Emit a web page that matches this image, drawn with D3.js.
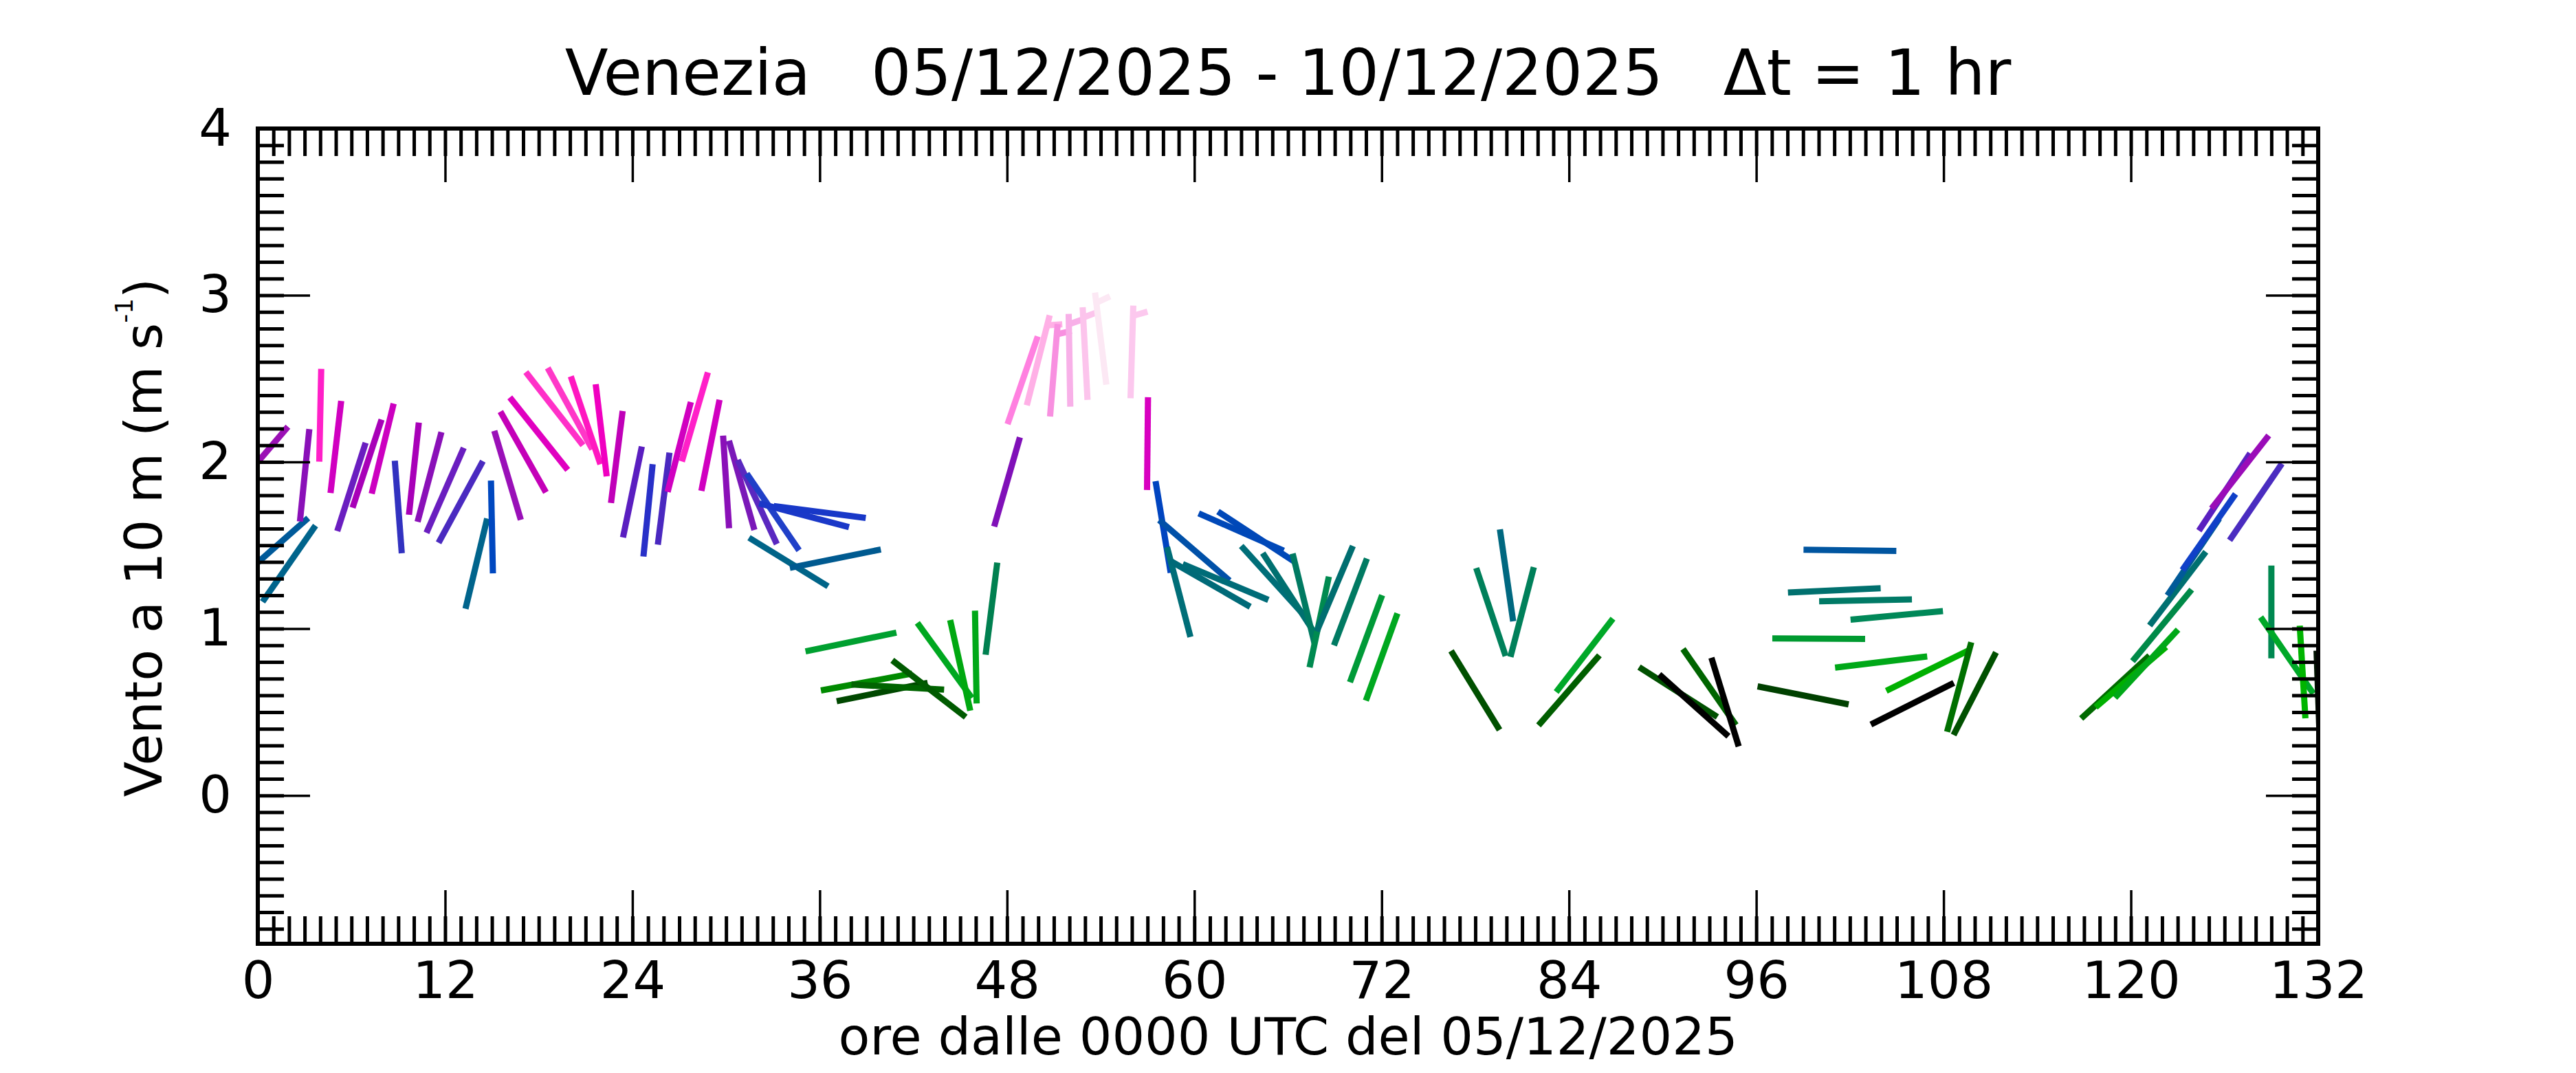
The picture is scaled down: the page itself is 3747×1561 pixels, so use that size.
<!DOCTYPE html>
<html>
<head>
<meta charset="utf-8">
<script src="https://cdn.jsdelivr.net/npm/d3@7"></script>
<style>
  body { margin: 0; background: #fff; }
  text { font-family: "DejaVu Sans", sans-serif; fill: #000; }
</style>
</head>
<body>
<svg id="chart" width="3747" height="1561"></svg>
<script>
// hours since 0000 UTC 05/12/2025
const hours = [0, 1, 2, 3, 4, 5, 6, 7, 8, 9, 10, 11, 12, 13, 14, 15, 16, 17, 18, 19,
  20, 21, 22, 23, 24, 25, 26, 27, 28, 29, 30, 31, 32, 33, 34, 35, 36, 37, 38, 39,
  40, 41, 43, 44, 45, 46, 47, 48, 49, 50, 51, 52, 53, 54, 56, 57, 58, 59, 60, 61,
  62, 63, 64, 65, 66, 67, 68, 69, 70, 71, 72, 78, 79, 80, 81, 84, 85, 91, 92, 93,
  94, 99, 100, 101, 102, 103, 104, 105, 106, 107, 109, 110, 119, 120, 121, 122, 123, 124, 125, 126,
  127, 128, 129, 130, 131, 132];

// wind speed (m/s)
const speeds = [2.00, 1.48, 1.39, 1.92, 2.28, 2.09, 1.85, 1.99, 2.08, 1.73, 1.96, 1.91, 1.83, 1.76, 1.39, 1.61, 1.92, 2.06, 2.17, 2.32,
  2.32, 2.25, 2.19, 2.03, 1.82, 1.71, 1.78, 2.09, 2.27, 2.10, 1.88, 1.86, 1.76, 1.70, 1.40, 1.68, 1.70, 1.42, 0.92, 0.68,
  0.62, 0.65, 0.64, 0.81, 0.78, 0.83, 1.12, 1.88, 2.49, 2.61, 2.55, 2.61, 2.65, 2.74, 2.66, 2.11, 1.61, 1.22, 1.47, 1.27,
  1.28, 1.58, 1.55, 1.29, 1.22, 1.18, 1.04, 1.24, 1.16, 0.94, 0.83, 0.63, 1.10, 1.32, 1.10, 0.63, 0.84, 0.62, 0.54, 0.65,
  0.56, 0.60, 0.94, 1.23, 1.47, 1.17, 0.80, 1.08, 0.55, 0.75, 0.65, 0.61, 0.65, 0.71, 0.79, 1.02, 1.24, 1.43, 1.58, 1.82,
  1.94, 1.76, 1.10, 0.84, 0.74, 0.59];

// stick direction (degrees clockwise from north)
const directions = [40.5, 48.6, 34.8, 5.8, 1.2, 6.6, 17.8, 18.2, 13.7, 175.7, 6.1, 14.9, 23.7, 28.5, 13.5, 178.8, 163.4, 150.6, 141.4, 142,
  151.3, 161.4, 173.2, 7.2, 11.7, 5.7, 7.2, 14.5, 16.3, 11.3, 176.3, 164.1, 155.1, 145.7, 121.6, 104.8, 97.4, 78.6, 78.3, 79.5,
  78.6, 93.1, 127.7, 144, 167.5, 179, 7.2, 16.1, 19, 14.3, 4.7, 359, 357, 353, 1.7, 0.6, 170.6, 165.4, 130.7, 119.9,
  112.7, 113.7, 123.2, 137.8, 147, 166.3, 12, 22.9, 20.8, 20.3, 19.9, 148.5, 161.5, 171.8, 14.6, 41, 37.7, 122.5, 131.8, 145.2,
  162.9, 101.2, 90.3, 87.3, 90.8, 88.9, 83.1, 84.7, 63.3, 63.9, 15.1, 27.2, 47.3, 49.4, 42.8, 39.6, 37.3, 34, 35, 33.5,
  38, 34.3, 0, 145.4, 176.5, 178];

const stickColors = ['#9b10b5', '#005a9a', '#00648c', '#8a10b8', '#ff20c8', '#d000c0', '#6a1ec0', '#a800b8', '#cc00c0', '#3232c0',
  '#a800b8', '#8a10b8', '#6a1ec0', '#4a2ac0', '#00648c', '#0048c0', '#9a10b8', '#c400b8', '#e000c0', '#ff30c8',
  '#ff38c8', '#ff18c0', '#f000c0', '#c000b8', '#5a1ec0', '#2830c8', '#4a28c0', '#d000c0', '#ff20c8', '#d000c0',
  '#8a10b8', '#7a18b8', '#5a28c0', '#2040c8', '#006488', '#1a38c8', '#1838c8', '#005a90', '#00a030', '#008a00',
  '#004800', '#006400', '#005a00', '#00a820', '#00a810', '#00a818', '#008050', '#8010b8', '#ff80e0', '#ffb0e6',
  '#f890e0', '#f8b0e8', '#fcc4ec', '#fce8f4', '#fcc8ee', '#d800c0', '#0044c0', '#006e78', '#0050a8', '#006a78',
  '#006c78', '#0048b8', '#0048b8', '#006e78', '#007070', '#007a62', '#008a50', '#006e70', '#007a62', '#009a38',
  '#00a820', '#005000', '#00805a', '#006880', '#00805a', '#005e00', '#00a828', '#005000', '#000000', '#006400',
  '#000000', '#004000', '#009a30', '#00706e', '#0055a0', '#007a66', '#00a818', '#008858', '#000000', '#00b000',
  '#007000', '#005000', '#006a00', '#00b000', '#00a818', '#008a48', '#007070', '#005a98', '#1040c8', '#5a20c0',
  '#9a0cb8', '#4a2cc0', '#008850', '#00a828', '#00b400', '#001000'];

const xTickLabels = [0, 12, 24, 36, 48, 60, 72, 84, 96, 108, 120, 132];
const yTickLabels = [0, 1, 2, 3, 4];

const svg = d3.select('#chart');
const plotLeft = 375, plotRight = 3372, plotTop = 187, plotBottom = 1373;

const x = d3.scaleLinear().domain([0, 132]).range([plotLeft, plotRight]);
const y = d3.scaleLinear().domain([-0.89, 4]).range([plotBottom, plotTop]);

svg.append('rect').attr('width', 3747).attr('height', 1561).attr('fill', '#fff');

svg.append('defs').append('clipPath').attr('id', 'plot')
  .append('rect')
  .attr('x', plotLeft).attr('y', plotTop)
  .attr('width', plotRight - plotLeft).attr('height', plotBottom - plotTop);

// wind sticks
const data = hours.map((h, i) => ({ h, speed: speeds[i], dir: directions[i], color: stickColors[i] }));
const half = 67.5;
const sticks = svg.append('g').attr('clip-path', 'url(#plot)');

data.forEach(d => {
  const a = d.dir * Math.PI / 180;
  const ux = Math.sin(a), uy = -Math.cos(a);
  const cx = x(d.h), cy = y(d.speed);
  sticks.append('line')
    .attr('x1', cx - half * ux).attr('y1', cy - half * uy)
    .attr('x2', cx + half * ux).attr('y2', cy + half * uy)
    .attr('stroke', d.color)
    .attr('stroke-width', 9);

  // half barb for speeds of 5 kt and above
  if (d.speed >= 2.5) {
    const bx = cx + (half - 15) * ux, by = cy + (half - 15) * uy;
    const px = -uy, py = ux;
    const c = Math.cos(18 * Math.PI / 180), s = Math.sin(18 * Math.PI / 180);
    const dx = c * px + s * ux, dy = c * py + s * uy;
    sticks.append('line')
      .attr('x1', bx).attr('y1', by)
      .attr('x2', bx + 22 * dx).attr('y2', by + 22 * dy)
      .attr('stroke', d.color)
      .attr('stroke-width', 9);
  }
});

// axes, ticks pointing inward on all four sides
function styleAxis(g, width) {
  g.select('.domain').remove();
  g.selectAll('.tick line').attr('stroke', '#000').attr('stroke-width', width);
  g.selectAll('.tick text').attr('font-size', 75).attr('font-family', 'DejaVu Sans').attr('fill', '#000');
}

const xMinor = d3.range(0, 133, 1);
const yMinor = d3.range(-8, 41, 1).map(v => v / 10);

svg.append('g').attr('transform', `translate(0,${plotBottom})`)
  .call(d3.axisBottom(x).tickValues(xMinor).tickSize(-40).tickFormat(''))
  .call(g => styleAxis(g, 5));
svg.append('g').attr('transform', `translate(0,${plotTop})`)
  .call(d3.axisTop(x).tickValues(xMinor).tickSize(-40).tickFormat(''))
  .call(g => styleAxis(g, 5));
svg.append('g').attr('transform', `translate(0,${plotBottom})`)
  .call(d3.axisBottom(x).tickValues(xTickLabels).tickSize(-78).tickPadding(26).tickFormat(d3.format('d')))
  .call(g => styleAxis(g, 3.5));
svg.append('g').attr('transform', `translate(0,${plotTop})`)
  .call(d3.axisTop(x).tickValues(xTickLabels).tickSize(-78).tickFormat(''))
  .call(g => styleAxis(g, 3.5));

svg.append('g').attr('transform', `translate(${plotLeft},0)`)
  .call(d3.axisLeft(y).tickValues(yMinor).tickSize(-38).tickFormat(''))
  .call(g => styleAxis(g, 5));
svg.append('g').attr('transform', `translate(${plotRight},0)`)
  .call(d3.axisRight(y).tickValues(yMinor).tickSize(-38).tickFormat(''))
  .call(g => styleAxis(g, 5));
svg.append('g').attr('transform', `translate(${plotLeft},0)`)
  .call(d3.axisLeft(y).tickValues(yTickLabels).tickSize(-76).tickPadding(38).tickFormat(d3.format('d')))
  .call(g => styleAxis(g, 3.5));
svg.append('g').attr('transform', `translate(${plotRight},0)`)
  .call(d3.axisRight(y).tickValues(yTickLabels).tickSize(-76).tickFormat(''))
  .call(g => styleAxis(g, 3.5));

svg.append('rect')
  .attr('x', plotLeft).attr('y', plotTop)
  .attr('width', plotRight - plotLeft).attr('height', plotBottom - plotTop)
  .attr('fill', 'none').attr('stroke', '#000').attr('stroke-width', 6);

// labels
svg.append('text')
  .attr('x', (plotLeft + plotRight) / 2).attr('y', 138)
  .attr('text-anchor', 'middle')
  .attr('font-size', 92)
  .style('white-space', 'pre')
  .text('Venezia   05/12/2025 - 10/12/2025   \u0394t = 1 hr');

svg.append('text')
  .attr('x', (plotLeft + plotRight) / 2).attr('y', 1534)
  .attr('text-anchor', 'middle')
  .attr('font-size', 75)
  .text('ore dalle 0000 UTC del 05/12/2025');

const ylab = svg.append('text')
  .attr('transform', 'translate(235,782) rotate(-90)')
  .attr('text-anchor', 'middle')
  .attr('font-size', 75);
ylab.append('tspan').text('Vento a 10 m (m s');
ylab.append('tspan').attr('font-size', 36).attr('dy', -42).text('-1');
ylab.append('tspan').attr('dy', 42).text(')');
</script>
</body>
</html>
